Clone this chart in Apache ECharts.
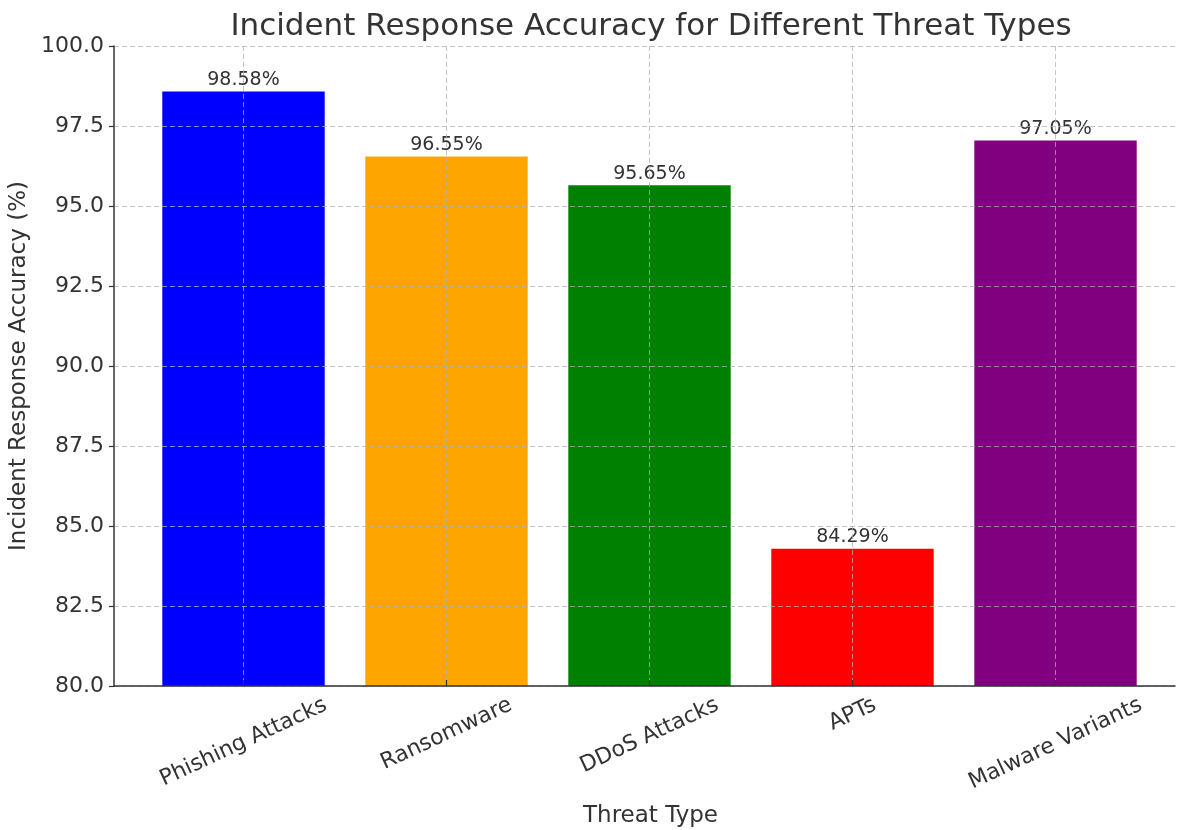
<!DOCTYPE html>
<html>
<head>
<meta charset="utf-8">
<script src="https://cdn.jsdelivr.net/npm/echarts@6/dist/echarts.min.js"></script>
<style>
  html, body { margin: 0; padding: 0; background: #ffffff; }
  #chart { width: 1177px; height: 830px; }
</style>
</head>
<body>
<div id="chart"></div>
<script>
// Threat categories and their incident response accuracy (%)
const categories = ['Phishing Attacks', 'Ransomware', 'DDoS Attacks', 'APTs', 'Malware Variants'];
const accuracy = [98.58, 96.55, 95.65, 84.29, 97.05];
const barColors = ['#0000ff', '#ffa500', '#008000', '#ff0000', '#800080'];
const yMin = 80.0;
const yMax = 100.0;
const yStep = 2.5;

const FONT = '"DejaVu Sans", "Liberation Sans", sans-serif';
const TEXT = '#333333';
const GRID_LINE = { color: 'rgba(176,176,176,0.75)', width: 1, type: [5, 3] };

// Plot frame (spines span the full axes box)
const plotLeft = 114, plotRight = 2, plotTop = 46, plotBottom = 144;
// Bars sit in an inner band so the outer margins match a padded category scale
const barLeft = 142, barRight = 20;

// Rotated category labels are centred under their tick: each label's centre is
// pushed straight down by half of its rotated bounding box. With top alignment
// the top padding moves it across the text line, the right padding along it.
const LABEL_SIZE = 22;
const ROT = 25 * Math.PI / 180;
const measureCtx = document.createElement('canvas').getContext('2d');
measureCtx.font = LABEL_SIZE + 'px ' + FONT;
const categoryItems = categories.map(function (name) {
  const w = measureCtx.measureText(name).width;
  const s = (w * Math.sin(ROT) + LABEL_SIZE * Math.cos(ROT)) / 2;
  return {
    value: name,
    textStyle: {
      align: 'center',
      verticalAlign: 'top',
      fontFamily: FONT,
      fontSize: LABEL_SIZE,
      lineHeight: LABEL_SIZE,
      color: TEXT,
      padding: [Math.max(0, s * Math.cos(ROT) - LABEL_SIZE / 2), 2 * s * Math.sin(ROT), 0, 0]
    }
  };
});

const barData = accuracy.map(function (v, i) {
  return { value: v, itemStyle: { color: barColors[i] } };
});

const chart = echarts.init(document.getElementById('chart'), null, { renderer: 'canvas' });
chart.setOption({
  animation: false,
  backgroundColor: '#ffffff',
  textStyle: { fontFamily: FONT, color: TEXT },
  title: {
    text: 'Incident Response Accuracy for Different Threat Types',
    left: 646,
    textAlign: 'center',
    top: 6,
    textStyle: { fontFamily: FONT, fontSize: 31, fontWeight: 'normal', color: TEXT }
  },
  grid: [
    { left: plotLeft, right: plotRight, top: plotTop, bottom: plotBottom, containLabel: false, outerBoundsMode: 'none' },
    { left: barLeft, right: barRight, top: plotTop, bottom: plotBottom, containLabel: false, outerBoundsMode: 'none' }
  ],
  xAxis: [
    {
      gridIndex: 0,
      type: 'value',
      min: 0,
      max: 1,
      name: 'Threat Type',
      nameLocation: 'middle',
      nameGap: 119,
      nameTextStyle: { fontFamily: FONT, fontSize: 23, color: TEXT, padding: [0, 0, 0, 12] },
      axisLine: { show: true, lineStyle: { color: TEXT, width: 1.5 } },
      axisTick: { show: false },
      axisLabel: { show: false },
      splitLine: { show: false },
      z: 3
    },
    {
      gridIndex: 1,
      type: 'category',
      data: categoryItems,
      boundaryGap: true,
      axisLine: { show: false },
      axisTick: { show: true, inside: true, alignWithLabel: true, length: 6, lineStyle: { color: TEXT, width: 1.2 } },
      axisLabel: {
        interval: 0,
        rotate: 25,
        margin: 8,
        align: 'center',
        verticalAlign: 'top',
        fontFamily: FONT,
        fontSize: LABEL_SIZE,
        color: TEXT,
        hideOverlap: false
      },
      splitLine: { show: true, alignWithLabel: true, lineStyle: GRID_LINE },
      z: 3
    }
  ],
  yAxis: [
    {
      gridIndex: 0,
      type: 'value',
      min: yMin,
      max: yMax,
      interval: yStep,
      name: 'Incident Response Accuracy (%)',
      nameLocation: 'middle',
      nameGap: 78,
      nameTextStyle: { fontFamily: FONT, fontSize: 23, color: TEXT },
      axisLine: { show: true, lineStyle: { color: TEXT, width: 1.5 } },
      axisTick: { show: true, length: 5, lineStyle: { color: TEXT, width: 1.2 } },
      axisLabel: {
        margin: 10,
        fontFamily: FONT,
        fontSize: 22,
        color: TEXT,
        formatter: function (v) { return v.toFixed(1); }
      },
      splitLine: { show: true, lineStyle: GRID_LINE },
      z: 3
    },
    {
      gridIndex: 1,
      type: 'value',
      min: yMin,
      max: yMax,
      interval: yStep,
      show: false
    }
  ],
  series: [
    {
      type: 'bar',
      xAxisIndex: 1,
      yAxisIndex: 1,
      data: barData,
      barWidth: '80%',
      z: 2,
      label: {
        show: true,
        position: 'top',
        distance: 2,
        fontFamily: FONT,
        fontSize: 19,
        color: TEXT,
        formatter: function (p) { return p.value.toFixed(2) + '%'; }
      }
    }
  ]
});
</script>
</body>
</html>
